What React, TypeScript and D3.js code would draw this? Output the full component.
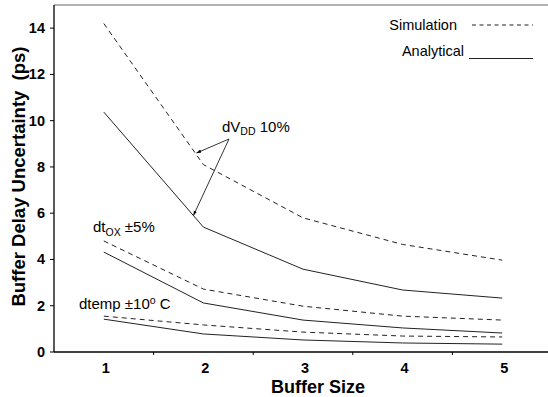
import React from "react";
import * as d3 from "d3";

const bufferSizes = [1, 2, 3, 4, 5];
const yTicks = [0, 2, 4, 6, 8, 10, 12, 14];

const vddSimulation = [14.2, 8.1, 5.8, 4.65, 3.97];
const vddAnalytical = [10.37, 5.4, 3.58, 2.68, 2.33];
const toxSimulation = [4.8, 2.72, 1.98, 1.55, 1.38];
const toxAnalytical = [4.32, 2.12, 1.38, 1.04, 0.82];
const tempSimulation = [1.55, 1.17, 0.86, 0.69, 0.65];
const tempAnalytical = [1.42, 0.78, 0.52, 0.39, 0.34];

const W = 548;
const H = 397;
const left = 54;
const top = 5;
const bottom = 352;

export default function App() {
  const x = d3.scaleLinear().domain([0.5, 5.5]).range([left, 552]);
  const y = d3.scaleLinear().domain([0, 15]).range([bottom, top]);
  const line = d3
    .line<number>()
    .x((_, i) => x(bufferSizes[i]))
    .y((d) => y(d));

  const sims = [vddSimulation, toxSimulation, tempSimulation];
  const anas = [vddAnalytical, toxAnalytical, tempAnalytical];
  const boundaries = [1.5, 2.5, 3.5, 4.5];
  const font = "Arial, 'Liberation Sans', sans-serif";
  const stroke = "#222";

  const ax = 229;
  const ay = 139;
  const t1x = x(1.93);
  const t1y = y(8.6);
  const t2x = x(1.9);
  const t2y = y(5.9);

  return (
    <svg
      width={W}
      height={H}
      style={{ position: "absolute", left: 0, top: 0, fontFamily: font }}
    >
      <defs>
        <marker
          id="arr"
          viewBox="0 0 10 10"
          refX="10"
          refY="5"
          markerWidth="6"
          markerHeight="6"
          orient="auto"
        >
          <path d="M0,1.5 L10,5 L0,8.5 z" fill="#000" />
        </marker>
      </defs>
      <rect width={W} height={H} fill="#fff" />
      <line x1={left} x2={W} y1={top} y2={top} stroke="#999" strokeWidth={1.5} />
      <line x1={left} x2={left} y1={top} y2={bottom} stroke="#000" strokeWidth={1.3} />
      <line x1={left} x2={W} y1={bottom} y2={bottom} stroke="#000" strokeWidth={1.3} />
      {yTicks.map((t) => (
        <g key={"y" + t}>
          <line x1={left - 4} x2={left} y1={y(t)} y2={y(t)} stroke="#000" />
          <text
            x={45}
            y={y(t) + 5}
            textAnchor="end"
            fontSize={14.5}
            fontWeight="bold"
          >
            {t}
          </text>
        </g>
      ))}
      {boundaries.map((b) => (
        <line key={"b" + b} x1={x(b)} x2={x(b)} y1={bottom} y2={bottom + 3} stroke="#000" />
      ))}
      {bufferSizes.map((b) => (
        <text
          key={"x" + b}
          x={x(b) + 2}
          y={373}
          textAnchor="middle"
          fontSize={14.5}
          fontWeight="bold"
        >
          {b}
        </text>
      ))}
      <text x={318} y={393} textAnchor="middle" fontSize={18} fontWeight="bold">
        Buffer Size
      </text>
      <text
        transform={`translate(25,176.5) rotate(-90)`}
        textAnchor="middle"
        fontSize={18.5}
        fontWeight="bold"
      >
        Buffer Delay Uncertainty{"\u00a0\u00a0"}(ps)
      </text>

      {sims.map((s, i) => (
        <path
          key={"s" + i}
          d={line(s) || ""}
          fill="none"
          stroke={stroke}
          strokeWidth={1}
          strokeDasharray="5,4"
        />
      ))}
      {anas.map((s, i) => (
        <path key={"a" + i} d={line(s) || ""} fill="none" stroke={stroke} strokeWidth={1} />
      ))}

      <text x={457} y={30} textAnchor="end" fontSize={14.5}>
        Simulation
      </text>
      <line x1={472} x2={533} y1={25} y2={25} stroke={stroke} strokeDasharray="4,3.5" />
      <text x={464} y={56} textAnchor="end" fontSize={14.5}>
        Analytical
      </text>
      <line x1={469} x2={533} y1={58.5} y2={58.5} stroke={stroke} />

      <text x={222} y={132} fontSize={15}>
        dV<tspan fontSize={10.5} dy={3}>DD</tspan>
        <tspan dy={-3}> 10%</tspan>
      </text>
      <line x1={ax} y1={ay} x2={t1x} y2={t1y} stroke="#000" strokeWidth={0.8} markerEnd="url(#arr)" />
      <line x1={ax} y1={ay} x2={t2x} y2={t2y} stroke="#000" strokeWidth={0.8} markerEnd="url(#arr)" />

      <text x={93} y={232} fontSize={15}>
        dt<tspan fontSize={10.5} dy={4}>OX</tspan>
        <tspan dy={-4}> ±5%</tspan>
      </text>
      <text x={79} y={309} fontSize={15}>
        dtemp ±10<tspan fontSize={10.5} dy={-5}>o</tspan>
        <tspan dy={5}> C</tspan>
      </text>
    </svg>
  );
}
